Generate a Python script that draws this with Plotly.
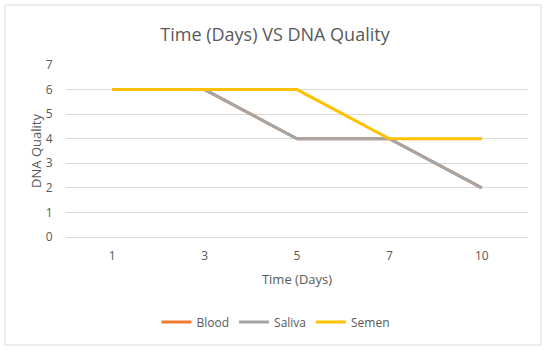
import plotly.graph_objects as go

days = ["1", "3", "5", "7", "10"]
blood = [6, 6, 4, 4, 2]
saliva = [6, 6, 4, 4, 2]
semen = [6, 6, 6, 4, 4]

W, H = 550, 350
L, R, T, B = 66, 22, 65, 113
pw, ph = W - L - R, H - T - B

def px(x):
    return (x - L) / pw

def py(y):
    return (H - B - y) / ph

fig = go.Figure()
fig.add_trace(go.Scatter(x=days, y=blood, name="Blood", mode="lines",
                         line=dict(color="#ED7D31", width=3)))
fig.add_trace(go.Scatter(x=days, y=saliva, name="Saliva", mode="lines",
                         line=dict(color="#A5A5A5", width=3)))
fig.add_trace(go.Scatter(x=days, y=semen, name="Semen", mode="lines",
                         line=dict(color="#FFC000", width=3)))

font = "Open Sans, Liberation Sans, sans-serif"
fig.update_layout(
    width=W, height=H,
    margin=dict(l=L, r=R, t=T, b=B),
    paper_bgcolor="white", plot_bgcolor="white",
    font=dict(family=font, color="#595959", size=12),
    title=dict(text="Time (Days) VS DNA Quality", x=0.5, xanchor="center",
               y=1 - 35 / H, yanchor="middle",
               font=dict(size=18, color="#595959", family=font)),
    showlegend=True,
    legend=dict(orientation="h", x=px(276), xanchor="center", y=py(322), yanchor="middle",
                font=dict(size=12, color="#595959"), itemwidth=30,
                traceorder="normal"),
    xaxis=dict(type="category", range=[-0.5, 4.5], automargin=False,
               showgrid=False, zeroline=False, showline=True,
               linecolor="#D9D9D9", linewidth=1, ticks="outside", ticklen=8,
               tickcolor="rgba(0,0,0,0)",
               tickfont=dict(size=12, color="#595959"),
               title=dict(text="Time (Days)", font=dict(size=13, color="#595959"), standoff=11)),
    yaxis=dict(range=[0, 7], dtick=1, automargin=False,
               showgrid=True, gridcolor="#D9D9D9", gridwidth=1,
               zeroline=False, showline=False, ticks="outside", ticklen=10,
               tickcolor="rgba(0,0,0,0)",
               tickfont=dict(size=12, color="#595959"),
               title=dict(text="DNA Quality", font=dict(size=13, color="#595959"), standoff=1)),
    shapes=[dict(type="rect", xref="paper", yref="paper",
                 x0=px(5), x1=px(541), y0=py(345), y1=py(5),
                 line=dict(color="#D9D9D9", width=1), fillcolor="rgba(0,0,0,0)",
                 layer="below")],
)

fig.write_html("out.html", config={"displayModeBar": False},
               post_script="document.body.style.margin='0';")
